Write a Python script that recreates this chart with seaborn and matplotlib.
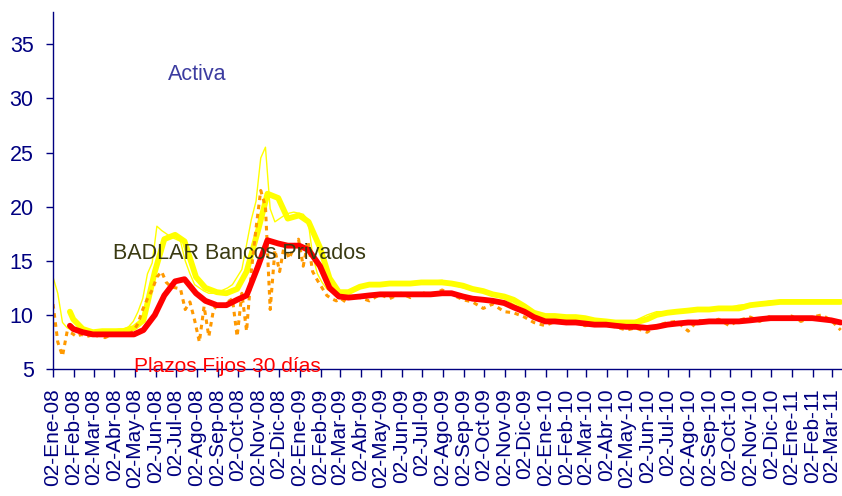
import pandas as pd
import numpy as np
import matplotlib
matplotlib.use('Agg')
import matplotlib.pyplot as plt
import seaborn as sns

# -----------------------------
# Datos
# -----------------------------
# promedios moviles: 27-Ene-08 y luego dias 1 y 15 de cada mes
smooth_dates = [pd.Timestamp('2008-01-27')] + list(pd.date_range('2008-02-01', '2011-03-15', freq='SMS'))

badlar_ma = [10.3,
             9.6, 8.7, 8.4, 8.5, 8.5, 8.5, 8.8, 9.5, 14.0, 17.0, 17.4, 16.8,
             13.5, 12.5, 12.1, 12.0, 12.4, 14.0, 17.8, 21.2, 20.8, 18.9,
             19.2, 18.6, 16.2, 13.4, 12.1, 12.1, 12.6, 12.8, 12.8, 12.9, 12.9, 12.9,
             13.0, 13.0, 13.0, 12.9, 12.7, 12.4, 12.2, 11.9, 11.7, 11.4, 10.8, 10.2,
             9.9, 9.9, 9.8, 9.8, 9.7, 9.5, 9.4, 9.3, 9.3, 9.3, 9.6, 10.0,
             10.2, 10.3, 10.4, 10.5, 10.5, 10.6, 10.6, 10.6, 10.9, 11.0, 11.1, 11.2,
             11.2, 11.2, 11.2, 11.2, 11.2, 11.2]

pf30_ma = [9.0,
           8.7, 8.4, 8.2, 8.2, 8.2, 8.2, 8.2, 8.6, 10.0, 11.8, 13.1, 13.3,
           12.0, 11.3, 10.9, 10.9, 11.4, 11.8, 14.5, 16.9, 16.6, 16.4,
           16.4, 16.0, 14.5, 12.5, 11.7, 11.6, 11.7, 11.8, 11.9, 11.9, 11.9, 11.9,
           11.9, 11.9, 12.0, 12.0, 11.7, 11.5, 11.4, 11.3, 11.1, 10.7, 10.3, 9.8,
           9.4, 9.4, 9.3, 9.3, 9.2, 9.1, 9.1, 9.0, 8.9, 8.9, 8.8, 8.9,
           9.1, 9.2, 9.3, 9.3, 9.4, 9.4, 9.4, 9.4, 9.5, 9.6, 9.7, 9.7,
           9.7, 9.7, 9.7, 9.6, 9.5, 9.3]

# series diarias: semanal hasta mar-09, luego quincenal
daily_dates = list(pd.date_range('2008-01-02', periods=64, freq='7D')) + \
              list(pd.date_range('2009-04-01', '2011-03-15', freq='SMS'))

badlar_daily = [13.5, 12.0, 9.3, 8.8, 8.6, 8.5, 8.4, 8.5, 8.6, 8.5, 8.6, 8.5, 8.6, 8.6, 8.7, 8.7,
                8.9, 9.4, 10.3, 11.5, 13.8, 14.8, 18.2, 17.8, 17.5, 17.2, 17.0, 16.8, 15.0, 13.8, 12.8, 12.5,
                12.2, 12.0, 12.0, 12.1, 12.3, 12.5, 12.8, 13.5, 14.2, 16.5, 18.8, 20.5, 24.5, 25.5, 19.8, 18.6,
                18.9, 19.2, 19.4, 19.5, 19.4, 19.3, 18.8, 15.5, 13.8, 13.0, 12.4, 12.1, 12.0, 12.0, 12.2, 12.3,
                12.6, 12.7, 12.8, 12.8, 12.9, 12.9, 13.0, 13.1, 13.2, 12.8, 12.5, 12.3, 12.1, 11.8, 11.5, 11.0,
                10.4, 9.9,
                9.7, 9.9, 9.8, 9.7, 9.6, 9.4, 9.3, 9.3, 9.3, 9.5, 10.0, 10.3,
                10.3, 10.4, 10.5, 10.6, 10.5, 10.6, 10.7, 10.9, 11.0, 11.1, 11.3, 11.2,
                11.3, 11.2, 11.3, 11.2, 11.3, 11.2]

pf30_daily = [11.0, 7.5, 6.2, 8.5, 8.3, 8.0, 8.2, 8.0, 8.1, 8.0, 8.2, 7.9, 8.1, 8.2, 8.0, 8.3,
              8.2, 8.5, 9.2, 10.5, 11.5, 12.3, 13.5, 14.0, 13.0, 12.6, 12.5, 12.4, 10.5, 11.2, 9.5, 7.5,
              10.8, 8.0, 10.5, 11.0, 10.8, 11.2, 11.5, 8.0, 12.0, 8.5, 14.0, 18.0, 21.5, 20.0, 10.5, 16.0,
              14.0, 16.5, 15.2, 16.2, 17.0, 14.5, 16.8, 14.0, 13.2, 12.5, 11.8, 11.5, 11.3, 11.5, 11.2, 11.7,
              11.6, 11.3, 11.9, 11.5, 12.0, 11.6, 12.1, 11.8, 12.3, 11.9, 11.4, 11.2, 10.6, 11.0, 10.3, 10.2,
              9.8, 9.3,
              9.0, 9.4, 9.2, 9.3, 9.0, 9.2, 9.0, 8.9, 8.6, 8.8, 8.4, 9.0,
              9.3, 9.4, 8.5, 9.5, 9.3, 9.6, 9.0, 9.5, 9.8, 9.4, 9.9, 9.5,
              9.9, 9.4, 9.8, 10.0, 9.5, 8.6]

meses = ['Ene', 'Feb', 'Mar', 'Abr', 'May', 'Jun', 'Jul', 'Ago', 'Sep', 'Oct', 'Nov', 'Dic']
tick_dates = pd.date_range('2008-01-01', '2011-03-01', freq='MS') + pd.Timedelta(days=1)
tick_labels = [f"02-{meses[d.month - 1]}-{d.strftime('%y')}" for d in tick_dates]

smooth_df = pd.DataFrame({'fecha': smooth_dates, 'badlar': badlar_ma, 'pf30': pf30_ma})
daily_df = pd.DataFrame({'fecha': daily_dates, 'badlar': badlar_daily, 'pf30': pf30_daily})

# -----------------------------
# Grafico
# -----------------------------
sns.set_style('white')
plt.rcParams['font.family'] = ['Liberation Sans', 'DejaVu Sans']

navy = '#000080'
fig = plt.figure(figsize=(8.42, 4.96), dpi=100)
ax = fig.add_axes([0.063, 0.256, 0.937, 0.72])

sns.lineplot(data=daily_df, x='fecha', y='badlar', color='#FFFF00', linewidth=1.0, ax=ax)
sns.lineplot(data=smooth_df, x='fecha', y='badlar', color='#FFFF00', linewidth=4.2, ax=ax)
sns.lineplot(data=daily_df, x='fecha', y='pf30', color='#FF9900', linewidth=2.2,
             linestyle=(0, (1.5, 1.5)), ax=ax)
sns.lineplot(data=smooth_df, x='fecha', y='pf30', color='#FF0000', linewidth=4.2, ax=ax)

ax.set_xlim(pd.Timestamp('2008-01-02'), pd.Timestamp('2011-03-17'))
ax.set_ylim(5, 38)
ax.set_yticks([5, 10, 15, 20, 25, 30, 35])
ax.set_xticks(tick_dates)
ax.set_xticklabels(tick_labels, rotation=90, fontsize=15, color=navy)
ax.tick_params(axis='y', labelsize=15.5, colors=navy, length=5, width=1, direction='out', left=True, pad=9)
ax.tick_params(axis='x', colors=navy, length=6, width=1, direction='out', bottom=True, pad=8)
ax.set_xlabel('')
ax.set_ylabel('')

for side in ['top', 'right']:
    ax.spines[side].set_visible(False)
for side in ['left', 'bottom']:
    ax.spines[side].set_color(navy)
    ax.spines[side].set_linewidth(1)

ax.text(pd.Timestamp('2008-08-03'), 32.2, 'Activa', color='#3C3CA0', fontsize=15.5, ha='center', va='center')
ax.text(pd.Timestamp('2008-10-05'), 15.7, 'BADLAR Bancos Privados', color='#3A3A12', fontsize=15.5,
        ha='center', va='center')
ax.text(pd.Timestamp('2008-09-17'), 5.2, 'Plazos Fijos 30 días', color='#FF0000', fontsize=15,
        ha='center', va='center', clip_on=False)

fig.savefig('out.png', dpi=100)
